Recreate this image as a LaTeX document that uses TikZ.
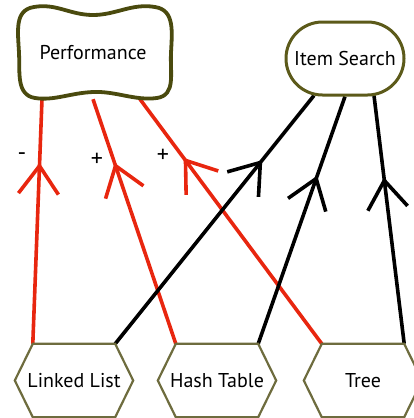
\documentclass[tikz,border=0pt]{standalone}
\usepackage{fontspec}
\setmainfont{PT Sans}
\usetikzlibrary{arrows.meta,decorations.markings,calc,shapes.misc}
\definecolor{edgered}{HTML}{E8260F}
\definecolor{olivedark}{HTML}{4A4A0E}
\definecolor{olivemid}{HTML}{5C5A1A}
\definecolor{olivelight}{HTML}{6E6C3E}
\pgfdeclarelayer{bg}
\pgfsetlayers{bg,main}
\tikzset{
  txt/.style={font=\fontsize{20}{24}\selectfont, inner sep=0pt, text=black},
  perfbox/.style={txt, minimum width=154pt, minimum height=92pt},
  pill/.style={txt, rounded rectangle, draw=olivemid, line width=3pt, fill=white, minimum width=118pt, minimum height=73pt},
  hexbox/.style={txt, minimum width=118pt, minimum height=73pt},
  hexline/.style={draw=olivelight, line width=2.2pt, fill=white, line join=miter},
  midarrow/.style={postaction={decorate, decoration={markings, mark=at position #1 with {\arrow{Straight Barb[length=28pt, width=40pt, line width=3.6pt]}}}}},
  redline/.style={draw=edgered, line width=3.6pt},
  blackline/.style={draw=black, line width=3.6pt},
  sign/.style={font=\fontsize{24}{28}\selectfont, inner sep=0pt, text=black}
}
\begin{document}
\begin{tikzpicture}[x=1pt,y=-1pt]
\useasboundingbox (0,0) rectangle (414,418);
\clip (0,0) rectangle (414,418);
% Performance blob
\draw[draw=olivedark, line width=3.8pt, fill=white]
  (34,7) .. controls (56,3) and (70,15) .. (93,15)
  .. controls (116,15) and (132,3) .. (155,7)
  .. controls (175,10) and (172,32) .. (171,53)
  .. controls (170,74) and (176,95) .. (157,98)
  .. controls (135,101) and (116,91) .. (93,92)
  .. controls (70,93) and (54,101) .. (35,98)
  .. controls (16,95) and (20,72) .. (19,53)
  .. controls (18,32) and (14,10) .. (34,7) -- cycle;
\node[perfbox] (perf) at (93,53) {Performance};
\node[pill] (item) at (345,58.5) {Item Search};
\node[hexbox] (ll) at (74,380.5) {};
\node[hexbox] (ht) at (217,380.5) {};
\node[hexbox] (tr) at (363,380.5) {};
\foreach \n in {ll,ht,tr}
  \draw[hexline] (\n.west) -- ($(\n.north west)+(18,0)$) -- ($(\n.north east)+(-18,0)$)
     -- (\n.east) -- ($(\n.south east)+(-18,0)$) -- ($(\n.south west)+(18,0)$) -- cycle;
\node[txt] at (ll) {Linked List};
\node[txt] at (ht) {Hash Table};
\node[txt] at (tr) {Tree};
\begin{pgfonlayer}{bg}
\draw[redline, midarrow=0.74] ($(ll.north west)+(18,0)$) -- ($(perf.south)+(-51,0)$);
\draw[redline, midarrow=0.74] ($(ht.north west)+(18,0)$) -- ($(perf.south)+(0,0)$);
\draw[redline, midarrow=0.76] ($(tr.north west)+(18,0)$) -- ($(perf.south)+(47,0)$);
\draw[blackline, midarrow=0.74] ($(ll.north east)+(-18,0)$) -- ($(item.south)+(-31,-1)$);
\draw[blackline, midarrow=0.68] ($(ht.north east)+(-18,0)$) -- ($(item.south)+(0,0)$);
\draw[blackline, midarrow=0.67] ($(tr.north east)+(-18,0)$) -- ($(item.south)+(29,-1)$);
\end{pgfonlayer}
\node[sign] (s1) at (22,157) {-};
\node[sign] (s2) at (97,160) {+};
\node[sign] (s3) at (163,156) {+};
\end{tikzpicture}
\end{document}
